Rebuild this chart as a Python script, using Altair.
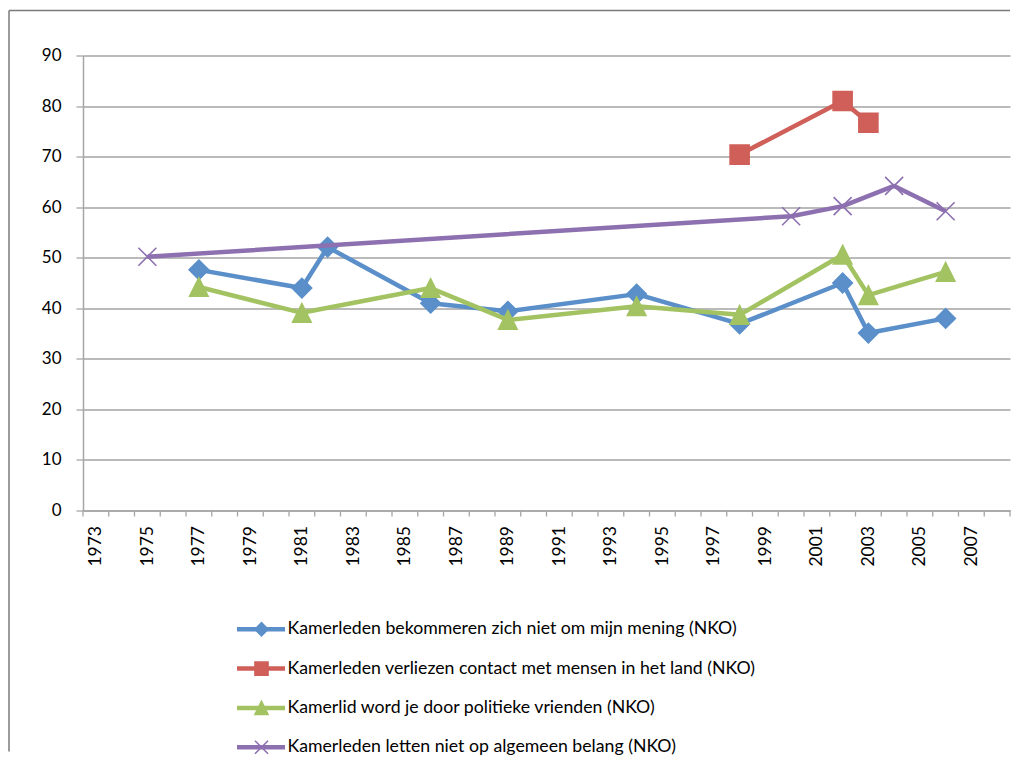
import altair as alt
import pandas as pd

# ---------------- data ----------------
series = [
    "Kamerleden bekommeren zich niet om mijn mening (NKO)",
    "Kamerleden verliezen contact met mensen in het land (NKO)",
    "Kamerlid word je door politieke vrienden (NKO)",
    "Kamerleden letten niet op algemeen belang (NKO)",
]
colors = ["#5a8fca", "#cf5f58", "#a3c363", "#8d70b0"]
shapes = ["diamond", "square", "M0,-1L1,1L-1,1Z", "M-1,-1L1,1M-1,1L1,-1"]
sizes = [380, 324, 330, 256]

years_bekommeren = [1977, 1981, 1982, 1986, 1989, 1994, 1998, 2002, 2003, 2006]
vals_bekommeren = [47.6, 44.0, 52.1, 41.0, 39.4, 42.8, 36.9, 45.0, 35.1, 38.0]
years_contact = [1998, 2002, 2003]
vals_contact = [70.4, 81.0, 76.7]
years_vrienden = [1977, 1981, 1986, 1989, 1994, 1998, 2002, 2003, 2006]
vals_vrienden = [44.2, 39.1, 44.0, 37.7, 40.4, 38.7, 50.6, 42.6, 47.2]
years_belang = [1975, 2000, 2002, 2004, 2006]
vals_belang = [50.2, 58.2, 60.2, 64.2, 59.2]

y_ticks = list(range(0, 100, 10))
x_label_years = list(range(1973, 2008, 2))
x_bounds = [y + 0.5 for y in range(1972, 2009)]

all_years = [years_bekommeren, years_contact, years_vrienden, years_belang]
all_vals = [vals_bekommeren, vals_contact, vals_vrienden, vals_belang]
rows = []
for s, ys, vs in zip(series, all_years, all_vals):
    for yv, v in zip(ys, vs):
        rows.append({"series": s, "year": yv, "value": v})
df = pd.DataFrame(rows)
legend_df = pd.DataFrame({"series": series})
bounds_df = pd.DataFrame({"year": x_bounds})

# ---------------- styling ----------------
W, H = 927, 455
FONT = "Lato"
GRAY = "#a6a6a6"

color_scale = alt.Scale(domain=series, range=colors)
shape_scale = alt.Scale(domain=series, range=shapes)
size_scale = alt.Scale(domain=series, range=sizes)
y_scale = alt.Scale(domain=[0, 90], nice=False, zero=True)
x_scale = alt.Scale(domain=[1972.5, 2008.5], nice=False, zero=False)

x_axis = alt.Axis(
    values=x_label_years,
    format="d",
    ticks=False,
    labelAngle=270,
    labelPadding=15,
    domainColor=GRAY,
    domainWidth=1.5,
    grid=False,
    labelFont=FONT,
    labelFontSize=17.5,
    labelColor="black",
    labelOverlap=False,
    labelBound=False,
    labelFlush=False,
    title=None,
)
y_axis = alt.Axis(
    values=y_ticks,
    grid=True,
    gridColor="#a3a3a3",
    gridWidth=1.5,
    domainColor=GRAY,
    domainWidth=1.5,
    tickColor=GRAY,
    tickSize=7,
    tickWidth=1.3,
    labelPadding=15,
    labelFont=FONT,
    labelFontSize=17,
    labelColor="black",
    title=None,
)

X = alt.X("year:Q", scale=x_scale, axis=x_axis)

dummy = alt.Chart(pd.DataFrame({"a": [0]}))
frame_left = dummy.mark_rule(color="#7a7a7a", strokeWidth=1.5).encode(
    x=alt.value(-74), y=alt.value(-45), y2=alt.value(696)
)
frame_top = dummy.mark_rule(color="#7a7a7a", strokeWidth=1.5).encode(
    x=alt.value(-74), x2=alt.value(W), y=alt.value(-45)
)
# x-axis tick marks at the year boundaries (category edges)
x_ticks = alt.Chart(bounds_df).mark_rule(color=GRAY, strokeWidth=1.3).encode(
    x=X, y=alt.value(H), y2=alt.value(H + 6)
)

layers = [frame_left, frame_top, x_ticks]
base = alt.Chart(df)
for i, s in enumerate(series):
    sub = base.transform_filter(alt.datum.series == s)
    first = i == 0
    Y = alt.Y("value:Q", scale=y_scale, axis=y_axis if first else None)
    line = sub.mark_line(strokeWidth=4.5, strokeJoin="round").encode(
        x=X, y=Y,
        color=alt.Color("series:N", scale=color_scale, legend=None),
    )
    pts = sub.mark_point(filled=True, opacity=1, strokeWidth=1.6).encode(
        x=X,
        y=alt.Y("value:Q", scale=y_scale, axis=None),
        color=alt.Color("series:N", scale=color_scale, legend=None),
        stroke=alt.Stroke("series:N", scale=color_scale, legend=None),
        shape=alt.Shape("series:N", scale=shape_scale, legend=None),
        size=alt.Size("series:N", scale=size_scale, legend=None),
    )
    layers += [line, pts]

# manual legend
leg_y = alt.Y(
    "series:N", sort=series, axis=None,
    scale=alt.Scale(type="point", domain=series, range=[573.75, 691.75], padding=0),
)
leg = alt.Chart(legend_df)
leg_line = leg.mark_rule(strokeWidth=4.5).encode(
    x=alt.value(154), x2=alt.value(202), y=leg_y,
    color=alt.Color("series:N", scale=color_scale, legend=None),
)
leg_pts = leg.mark_point(filled=True, opacity=1, strokeWidth=1.6).encode(
    x=alt.value(178.5), y=leg_y,
    color=alt.Color("series:N", scale=color_scale, legend=None),
    stroke=alt.Stroke("series:N", scale=color_scale, legend=None),
    shape=alt.Shape("series:N", scale=shape_scale, legend=None),
    size=alt.value(170),
)
leg_text = leg.mark_text(align="left", baseline="middle", font=FONT, fontSize=17.7, color="black").encode(
    x=alt.value(204.5), y=leg_y, text="series:N"
)
layers += [leg_line, leg_pts, leg_text]

chart = (
    alt.layer(*layers)
    .resolve_scale(y="independent")
    .properties(width=W, height=H, padding={"left": 0, "top": 1.5, "right": 0, "bottom": 0})
    .configure_view(strokeWidth=0)
)

chart.save("out.html", embed_options={"renderer": "svg", "actions": False})
